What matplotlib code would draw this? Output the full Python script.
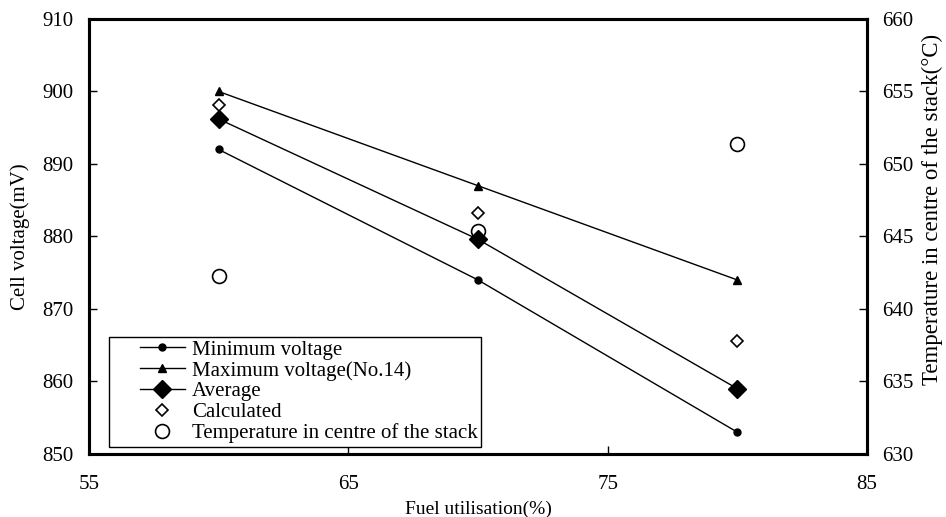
import matplotlib
matplotlib.use("Agg")
import matplotlib.pyplot as plt
from matplotlib.legend_handler import HandlerLine2D

plt.rcParams['font.family'] = ['Liberation Serif', 'DejaVu Serif']

# Fuel utilisation (%)
fuel_util = [60, 70, 80]
# Cell voltages (mV)
v_min = [892, 874, 853]
v_max = [900, 887, 874]
v_avg = [896.2, 879.6, 859.0]
v_calc = [898.2, 883.3, 865.6]
# Temperature in centre of the stack (°C)
t_centre = [642.3, 645.4, 651.4]

x_ticks = [55, 65, 75, 85]
y_ticks = [850, 860, 870, 880, 890, 900, 910]
t_ticks = [630, 635, 640, 645, 650, 655, 660]


class ShortLineHandler(HandlerLine2D):
    """Legend handle whose line only covers the right part of the handle box."""

    def __init__(self, cut=0.38, **kw):
        super().__init__(**kw)
        self.cut = cut

    def create_artists(self, legend, orig_handle, xdescent, ydescent,
                       width, height, fontsize, trans):
        shift = self.cut * width
        return super().create_artists(legend, orig_handle, xdescent - shift,
                                      ydescent, width - shift, height,
                                      fontsize, trans)


fig = plt.figure(figsize=(9.46, 5.17), dpi=100)
ax = fig.add_axes([0.094, 0.122, 0.8225, 0.8413])
ax2 = ax.twinx()

fs = 15
lw = 1.0

l_min, = ax.plot(fuel_util, v_min, color='black', lw=lw, marker='o', ms=5,
                 label='Minimum voltage')
l_max, = ax.plot(fuel_util, v_max, color='black', lw=lw, marker='^', ms=6,
                 label='Maximum voltage(No.14)')
l_avg, = ax.plot(fuel_util, v_avg, color='black', lw=lw, marker='D', ms=9,
                 label='Average')
l_calc, = ax.plot(fuel_util, v_calc, linestyle='none', marker='D', ms=6.5,
                  markerfacecolor='white', markeredgecolor='black', mew=1.2,
                  label='Calculated')
l_temp, = ax2.plot(fuel_util, t_centre, linestyle='none', marker='o', ms=10,
                   markerfacecolor='none', markeredgecolor='black', mew=1.2,
                   label='Temperature in centre of the stack')

ax.set_xlim(55, 85)
ax.set_ylim(850, 910)
ax2.set_ylim(630, 660)
ax.set_xticks(x_ticks)
ax.set_yticks(y_ticks)
ax2.set_yticks(t_ticks)

for a in (ax, ax2):
    for s in a.spines.values():
        s.set_linewidth(2.2)
ax.tick_params(axis='both', direction='in', length=6, width=1, labelsize=fs)
ax.tick_params(axis='y', pad=11)
ax.tick_params(axis='x', pad=15)
ax2.tick_params(axis='y', direction='in', length=6, width=1, labelsize=fs, pad=11)

ax.set_xlabel('Fuel utilisation(%)', fontsize=14, labelpad=5)
ax.set_ylabel('Cell voltage(mV)', fontsize=fs)
ax.yaxis.set_label_coords(-0.076, 0.50)
ax2.set_ylabel('Temperature in centre of the stack(°C)', fontsize=16.5)
ax2.yaxis.set_label_coords(1.071, 0.561)

handles = [l_min, l_max, l_avg, l_calc, l_temp]
leg = ax2.legend(handles=handles, loc='upper left',
                 bbox_to_anchor=(0.0257, 0.269), fontsize=fs,
                 frameon=True, fancybox=False, framealpha=1,
                 edgecolor='black', labelspacing=0.06, handlelength=3.5,
                 handletextpad=0.35, borderpad=0.15, borderaxespad=0,
                 handler_map={l: ShortLineHandler() for l in handles})
leg.get_frame().set_linewidth(1.0)

fig.savefig('out.png', dpi=100)
